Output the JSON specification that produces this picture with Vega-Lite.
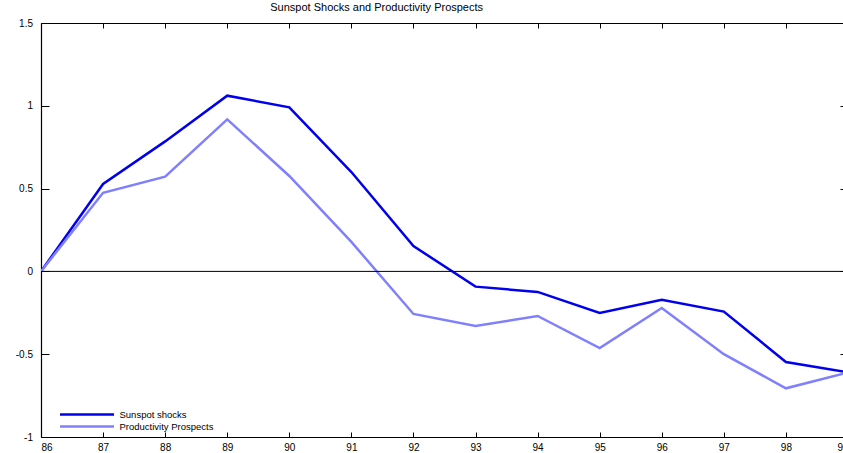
{
  "$schema": "https://vega.github.io/schema/vega-lite/v6.json",
  "width": 807,
  "height": 414,
  "autosize": "none",
  "padding": {"left": 41, "top": 23, "right": 0, "bottom": 16},
  "background": "white",
  "title": {"text": "Sunspot Shocks and Productivity Prospects", "anchor": "start", "dx": 255, "fontSize": 11, "font": "Liberation Sans", "fontWeight": "normal", "color": "black", "offset": 5},
  "config": {
    "view": {"stroke": null},
    "axis": {"grid": false, "domainColor": "black", "domainWidth": 1.2, "tickColor": "black", "tickWidth": 1, "labelFont": "Liberation Sans", "labelFontSize": 10, "labelColor": "black", "title": null, "labelFlush": false},
    "axisX": {"tickSize": -5},
    "axisY": {"tickSize": -8}
  },
  "layer": [
    {
      "data": {"values": [
        {"year": 86, "value": 0, "series": "Sunspot shocks"},
        {"year": 87, "value": 0.528, "series": "Sunspot shocks"},
        {"year": 88, "value": 0.785, "series": "Sunspot shocks"},
        {"year": 89, "value": 1.061, "series": "Sunspot shocks"},
        {"year": 90, "value": 0.991, "series": "Sunspot shocks"},
        {"year": 91, "value": 0.6, "series": "Sunspot shocks"},
        {"year": 92, "value": 0.153, "series": "Sunspot shocks"},
        {"year": 93, "value": -0.092, "series": "Sunspot shocks"},
        {"year": 94, "value": -0.124, "series": "Sunspot shocks"},
        {"year": 95, "value": -0.251, "series": "Sunspot shocks"},
        {"year": 96, "value": -0.171, "series": "Sunspot shocks"},
        {"year": 97, "value": -0.243, "series": "Sunspot shocks"},
        {"year": 98, "value": -0.547, "series": "Sunspot shocks"},
        {"year": 99, "value": -0.61, "series": "Sunspot shocks"},
        {"year": 86, "value": 0, "series": "Productivity Prospects"},
        {"year": 87, "value": 0.475, "series": "Productivity Prospects"},
        {"year": 88, "value": 0.572, "series": "Productivity Prospects"},
        {"year": 89, "value": 0.918, "series": "Productivity Prospects"},
        {"year": 90, "value": 0.576, "series": "Productivity Prospects"},
        {"year": 91, "value": 0.178, "series": "Productivity Prospects"},
        {"year": 92, "value": -0.257, "series": "Productivity Prospects"},
        {"year": 93, "value": -0.33, "series": "Productivity Prospects"},
        {"year": 94, "value": -0.269, "series": "Productivity Prospects"},
        {"year": 95, "value": -0.463, "series": "Productivity Prospects"},
        {"year": 96, "value": -0.221, "series": "Productivity Prospects"},
        {"year": 97, "value": -0.5, "series": "Productivity Prospects"},
        {"year": 98, "value": -0.706, "series": "Productivity Prospects"},
        {"year": 99, "value": -0.61, "series": "Productivity Prospects"}
      ]},
      "mark": {"type": "line", "strokeWidth": 2.5, "clip": true},
      "encoding": {
        "x": {"field": "year", "type": "quantitative", "scale": {"domain": [86, 99], "nice": false, "zero": false}, "axis": {"orient": "bottom", "values": [86,87,88,89,90,91,92,93,94,95,96,97,98,99], "format": "d", "labelPadding": 10, "labelFlush": true}},
        "y": {"field": "value", "type": "quantitative", "scale": {"domain": [-1, 1.5], "nice": false, "zero": false}, "axis": {"orient": "left", "values": [-1,-0.5,0,0.5,1,1.5], "labelExpr": "datum.value + ''", "labelPadding": 16.5}},
        "color": {"field": "series", "type": "nominal", "sort": ["Sunspot shocks", "Productivity Prospects"], "scale": {"domain": ["Sunspot shocks", "Productivity Prospects"], "range": ["#0000ee", "#8080ff"]},
          "legend": {"orient": "none", "legendX": 39.5, "legendY": 385, "title": null, "symbolType": "M-5.4,0H5.4", "symbolSize": 100, "symbolStrokeWidth": 2.5, "labelFont": "Liberation Sans", "labelFontSize": 9.5, "labelColor": "black", "labelOffset": 26, "rowPadding": -2}}
      }
    },
    {
      "data": {"values": [{"z": 0}]},
      "mark": {"type": "rule", "color": "black", "strokeWidth": 1},
      "encoding": {
        "x": {"datum": 86, "type": "quantitative", "axis": {"orient": "top", "labels": false, "values": [86,87,88,89,90,91,92,93,94,95,96,97,98,99]}},
        "x2": {"datum": 99},
        "y": {"datum": 0, "type": "quantitative", "axis": {"orient": "right", "labels": false, "values": [-1,-0.5,0,0.5,1,1.5]}}
      }
    }
  ],
  "resolve": {"axis": {"x": "independent", "y": "independent"}}
}
